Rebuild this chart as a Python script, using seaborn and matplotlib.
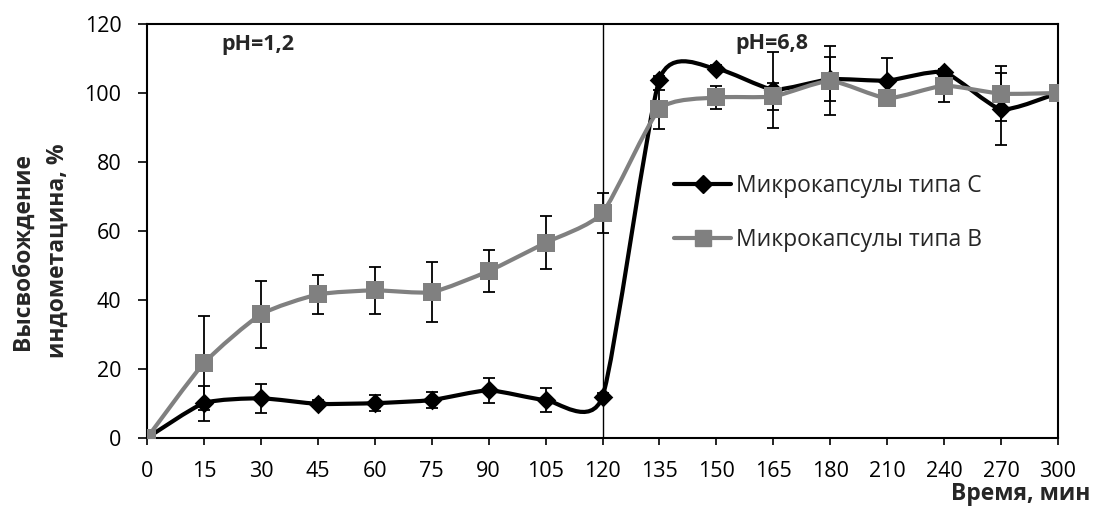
import matplotlib
matplotlib.use("Agg")
import matplotlib.pyplot as plt
from matplotlib.path import Path
from matplotlib.patches import PathPatch
from matplotlib.lines import Line2D
import seaborn as sns
import numpy as np
import pandas as pd

# time points (categorical axis, equally spaced as in the original Excel chart)
time_labels = ['0', '15', '30', '45', '60', '75', '90', '105', '120',
               '135', '150', '165', '180', '210', '240', '270', '300']

# release, % - microcapsules type C
release_c = [0, 10.1, 11.5, 9.9, 10.1, 11.0, 13.8, 11.0, 12.0,
             103.9, 107.0, 101.0, 104.0, 103.6, 106.0, 95.3, 100.0]
err_c = [0, 5.1, 4.2, 1.0, 2.3, 2.3, 3.7, 3.5, 1.0,
         1.0, 1.0, 11.0, 6.4, 6.5, 1.0, 10.5, 0]

# release, % - microcapsules type B
release_b = [0, 21.7, 35.8, 41.6, 42.8, 42.3, 48.4, 56.6, 65.3,
             95.3, 98.7, 99.0, 103.5, 98.5, 102.1, 99.8, 100.0]
err_b = [0, 13.6, 9.8, 5.7, 6.8, 8.6, 6.0, 7.7, 5.8,
         5.6, 3.4, 3.9, 10.0, 1.0, 4.8, 7.9, 0]

label_c = 'Микрокапсулы типа С'
label_b = 'Микрокапсулы типа В'
ph_labels = ['pH=1,2', 'pH=6,8']


def smooth_path(x, y, tension=0.1):
    # Excel-like smoothed line: cubic Bezier segments with Catmull-Rom style control points
    pts = np.column_stack([x, y]).astype(float)
    n = len(pts)
    verts = [pts[0]]
    codes = [Path.MOVETO]
    for i in range(n - 1):
        p0 = pts[i - 1] if i > 0 else pts[i]
        p1 = pts[i]
        p2 = pts[i + 1]
        p3 = pts[i + 2] if i + 2 < n else pts[i + 1]
        c1 = p1 + (p2 - p0) * tension
        c2 = p2 - (p3 - p1) * tension
        verts += [c1, c2, p2]
        codes += [Path.CURVE4] * 3
    return Path(verts, codes)


sns.set_style("ticks")
plt.rcParams['font.family'] = ['Open Sans', 'DejaVu Sans']

df = pd.DataFrame({
    'pos': np.arange(len(time_labels)),
    'c': release_c, 'c_err': err_c,
    'b': release_b, 'b_err': err_b,
})

fig = plt.figure(figsize=(10.96, 5.07), dpi=100)
ax = fig.add_axes([147 / 1096, 1 - 438 / 507, (1058 - 147) / 1096, (438 - 24) / 507])

gray = '#808080'

# series C (black, diamonds)
ax.errorbar(df['pos'], df['c'], yerr=df['c_err'], fmt='none', ecolor='black',
            elinewidth=1.3, capsize=4.5, capthick=1.3, zorder=2)
ax.add_patch(PathPatch(smooth_path(df['pos'], df['c']), facecolor='none',
                       edgecolor='black', lw=3.0, zorder=3, capstyle='round'))
sns.scatterplot(data=df, x='pos', y='c', marker='D', s=100, color='black',
                edgecolor='black', linewidth=0, ax=ax, zorder=4)

# series B (gray, squares)
ax.errorbar(df['pos'], df['b'], yerr=df['b_err'], fmt='none', ecolor='black',
            elinewidth=1.3, capsize=4.5, capthick=1.3, zorder=5)
ax.add_patch(PathPatch(smooth_path(df['pos'], df['b']), facecolor='none',
                       edgecolor=gray, lw=3.0, zorder=6, capstyle='round'))
sns.scatterplot(data=df, x='pos', y='b', marker='s', s=160, color=gray,
                edgecolor=gray, linewidth=0, ax=ax, zorder=7)

# boundary between pH phases
ax.axvline(8, color='black', lw=1.0, zorder=1)

ax.text(1.95, 114.0, ph_labels[0], fontsize=15.5, fontweight='bold', ha='center', va='center')
ax.text(10.97, 114.3, ph_labels[1], fontsize=15.5, fontweight='bold', ha='center', va='center')

ax.set_xlim(0, len(time_labels) - 1)
ax.set_ylim(0, 120)
ax.set_xticks(df['pos'])
ax.set_xticklabels(time_labels)
ax.set_yticks(np.arange(0, 121, 20))
ax.tick_params(axis='both', direction='out', width=1.2, labelsize=15.5,
               color='black', labelcolor='black')
ax.tick_params(axis='x', length=5, pad=11.5)
ax.tick_params(axis='y', length=6.5, pad=12)
ax.set_xlabel('')
ax.set_ylabel('')
for sp in ax.spines.values():
    sp.set_visible(True)
    sp.set_color('black')
    sp.set_linewidth(1.5)

fig.text(40 / 1096, 1 - 251 / 507, 'Высвобождение\nиндометацина, %', rotation=90,
         fontsize=16.5, fontweight='bold', ha='center', va='center',
         multialignment='center', linespacing=1.6)
fig.text(1090 / 1096, 1 - 494 / 507, 'Время, мин', fontsize=16.5, fontweight='bold',
         ha='right', va='center')

handles = [
    Line2D([], [], color='black', lw=3.0, marker='D', markersize=9),
    Line2D([], [], color=gray, lw=3.0, marker='s', markersize=12),
]
leg = fig.legend(handles, [label_c, label_b], loc='upper left',
                 bbox_to_anchor=(674 / 1096, 1 - 174 / 507), frameon=False,
                 fontsize=16.5, handlelength=2.5, handletextpad=0.2,
                 labelspacing=1.3, borderpad=0, borderaxespad=0)

fig.savefig('out.png', dpi=100)
